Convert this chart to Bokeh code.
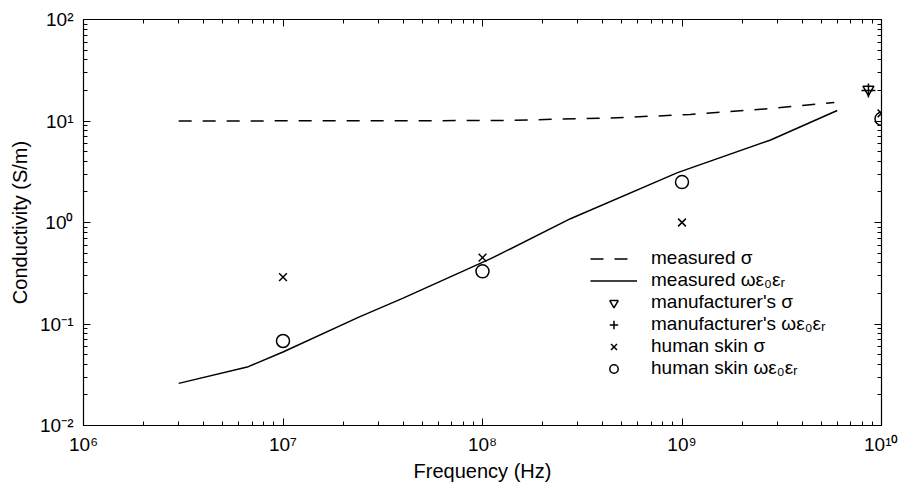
from bokeh.plotting import figure
from bokeh.models import Range1d, FixedTicker, CustomJSTickFormatter, LogAxis
from bokeh.embed import file_html
from bokeh.resources import INLINE

# ---- data ----
meas_sigma_f = [3e6, 1.2e8, 4.4e8, 1.1e9, 2.7e9, 5.8e9]
meas_sigma_v = [10.0, 10.1, 10.7, 11.6, 13.2, 15.2]

meas_we_f = [3e6, 6.7e6, 1e7, 2.4e7, 4e7, 1.1e8, 2.76e8, 9.5e8, 2.78e9, 6e9]
meas_we_v = [0.026, 0.038, 0.053, 0.117, 0.18, 0.44, 1.09, 3.1, 6.5, 12.7]

manuf_sigma_f = [8.6e9]
manuf_sigma_v = [20.5]
manuf_we_f = [8.6e9]
manuf_we_v = [20.0]

skin_sigma_f = [1e7, 1e8, 1e9, 1e10]
skin_sigma_v = [0.29, 0.45, 1.0, 11.9]
skin_we_f = [1e7, 1e8, 1e9, 1e10]
skin_we_v = [0.068, 0.33, 2.5, 10.5]

x_major = [1e6, 1e7, 1e8, 1e9, 1e10]
y_major = [1e-2, 1e-1, 1e0, 1e1, 1e2]

FONT = "Liberation Sans"

p = figure(width=898, height=486, x_axis_type="log", y_axis_type="log",
           x_range=Range1d(1e6, 1e10), y_range=Range1d(1e-2, 1e2),
           output_backend="svg", toolbar_location=None,
           min_border_left=83, min_border_right=17,
           min_border_top=19, min_border_bottom=61)

p.grid.visible = False
p.outline_line_color = "black"
p.outline_line_width = 1.2
p.background_fill_color = "white"
p.border_fill_color = "white"

x_minor = [m * 10.0 ** e for e in range(6, 10) for m in range(2, 10)]
y_minor = [m * 10.0 ** e for e in range(-2, 2) for m in range(2, 10)]

sup_code = """
const sup = {'0':'\u2070','1':'\u00b9','2':'\u00b2','3':'\u00b3','4':'\u2074',
             '5':'\u2075','6':'\u2076','7':'\u2077','8':'\u2078','9':'\u2079','-':'\u207b'};
const e = Math.round(Math.log10(tick));
return '10' + String(e).split('').map(c => sup[c]).join('');
"""
blank_code = "return '';"

def style_axis(ax, ticks, minor, labels=True):
    ax.ticker = FixedTicker(ticks=ticks, minor_ticks=minor)
    ax.formatter = CustomJSTickFormatter(code=sup_code if labels else blank_code)
    ax.major_tick_in = 7
    ax.major_tick_out = 0
    ax.minor_tick_in = 4
    ax.minor_tick_out = 0
    ax.axis_line_color = "black"
    ax.major_tick_line_color = "black"
    ax.minor_tick_line_color = "black"
    ax.major_label_text_font = FONT
    ax.major_label_text_font_size = "19px"
    ax.major_label_text_color = "black"
    ax.axis_label_text_font = FONT
    ax.axis_label_text_font_size = "20px"
    ax.axis_label_text_font_style = "normal"
    ax.axis_label_text_color = "black"
    if not labels:
        ax.major_label_standoff = 0

style_axis(p.xaxis[0], x_major, x_minor)
style_axis(p.yaxis[0], y_major, y_minor)
p.xaxis[0].axis_label = "Frequency (Hz)"
p.yaxis[0].axis_label = "Conductivity (S/m)"
p.xaxis[0].major_label_standoff = 8
p.yaxis[0].major_label_standoff = 10
p.xaxis[0].axis_label_standoff = 2
p.yaxis[0].axis_label_standoff = 6

top = LogAxis()
style_axis(top, x_major, x_minor, labels=False)
p.add_layout(top, "above")
right = LogAxis()
style_axis(right, y_major, y_minor, labels=False)
p.add_layout(right, "right")

p.line(meas_sigma_f, meas_sigma_v, line_color="black", line_width=1.5,
       line_dash="13 11", legend_label="measured σ")
p.line(meas_we_f, meas_we_v, line_color="black", line_width=1.5,
       legend_label="measured ωε₀εᵣ")
p.scatter(manuf_sigma_f, manuf_sigma_v, marker="inverted_triangle", size=11,
          line_color="black", fill_color=None, line_width=1.5,
          legend_label="manufacturer's σ")
p.scatter(manuf_we_f, manuf_we_v, marker="cross", size=14,
          line_color="black", line_width=1.5,
          legend_label="manufacturer's ωε₀εᵣ")
p.scatter(skin_sigma_f, skin_sigma_v, marker="x", size=11,
          line_color="black", line_width=1.5,
          legend_label="human skin σ")
p.scatter(skin_we_f, skin_we_v, marker="circle", size=13,
          line_color="black", fill_color=None, line_width=1.5,
          legend_label="human skin ωε₀εᵣ")

lg = p.legend[0]
lg.padding = 0
lg.margin = 0
lg.label_height = 21
lg.glyph_height = 21
lg.spacing = 0
lg.glyph_width = 47
lg.label_standoff = 14
lg.location = (507, 46)
lg.border_line_color = None
lg.background_fill_alpha = 0
lg.label_text_font = FONT
lg.label_text_font_size = "19px"
lg.label_text_color = "black"

open("out.html", "w").write(file_html(p, INLINE))
